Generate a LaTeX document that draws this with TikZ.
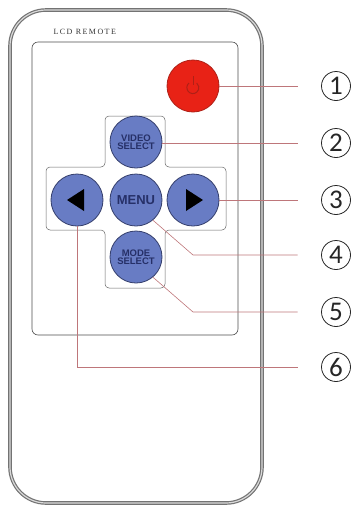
\documentclass[tikz,border=0pt]{standalone}
\usepackage{fontspec}
\setmainfont{Liberation Serif}
\setsansfont{Liberation Sans}
\newfontfamily\digitfont{Carlito}
\usetikzlibrary{calc}

\definecolor{keyblue}{RGB}{104,124,196}
\definecolor{keyedge}{RGB}{52,62,108}
\definecolor{keytext}{RGB}{38,48,104}
\definecolor{pwrred}{RGB}{232,34,22}
\definecolor{pwredge}{RGB}{175,32,22}
\definecolor{leadcol}{RGB}{190,118,122}
\definecolor{casegray}{RGB}{115,115,115}

\begin{document}
\begin{tikzpicture}[x=1pt,y=-1pt]

    \tikzset{
      key/.style={
        circle,
        draw=keyedge,
        line width=0.8pt,
        fill=keyblue,
        minimum size=52pt,
        inner sep=0pt,
        align=center,
        text=keytext,
        font=\sffamily\bfseries,
      },
      pwrkey/.style={key, fill=pwrred, draw=pwredge},
      smallcaps/.style={font=\sffamily\bfseries\fontsize{9.5}{8.5}\selectfont},
      arrowtip/.style={fill=black},
      lead/.style={draw=leadcol, line width=0.6pt, shorten >=23.5pt},
      num/.style={
        circle,
        draw=black!85,
        line width=0.8pt,
        minimum size=29pt,
        inner sep=0pt,
        font=\digitfont\fontsize{27}{27}\selectfont,
        text=black!85,
      },
    }
    \useasboundingbox (0,0) rectangle (354,507);

    % case and panels
    \draw[draw=casegray, line width=1.2pt, double=gray!30, double distance=1.2pt,
          rounded corners=36pt] (10,10) rectangle (262,503);
    \node[anchor=west, font=\addfontfeature{LetterSpace=18}\fontsize{8}{8}\selectfont, text=black!80]
      (brand) at (50,32) {LCD REMOTE};
    \draw[draw=black!70, line width=0.6pt, rounded corners=6pt] (32,42) rectangle (238,335);
    \draw[draw=black!60, line width=0.5pt, rounded corners=4pt]
      (105,116) -- (165,116) -- (165,167) -- (226,167) -- (226,230) -- (165,230)
      -- (165,288) -- (105,288) -- (105,230) -- (46,230) -- (46,167) -- (105,167) -- cycle;

    % keys
    \node[pwrkey] (pwr) at (193,86) {};
    \draw[draw=pwredge, line width=1pt] ($(pwr)+(-4,-3)$) arc[start angle=130, end angle=410, radius=6pt];
    \draw[draw=pwredge, line width=1pt] ($(pwr)+(0,-10)$) -- ($(pwr)+(0,-1)$);
    \node[key, smallcaps] (vidsel) at (136,142) {VIDEO\\SELECT};
    \node[key, font=\sffamily\bfseries\fontsize{13}{13}\selectfont] (menu) at (136,200) {MENU};
    \node[key] (leftkey) at (77,200) {};
    \node[key] (rightkey) at (193,200) {};
    \node[key, smallcaps] (modesel) at (136,257) {MODE\\SELECT};
    \fill[arrowtip] ($(leftkey)+(-10,0)$) -- ($(leftkey)+(7,-11)$) -- ($(leftkey)+(7,11)$) -- cycle;
    \fill[arrowtip] ($(rightkey)+(10,0)$) -- ($(rightkey)+(-7,-11)$) -- ($(rightkey)+(-7,11)$) -- cycle;

    % callout numbers
    \node[num] (n1) at (336,86) {1};
    \node[num] (n2) at (336,143) {2};
    \node[num] (n3) at (336,200) {3};
    \node[num] (n4) at (336,255) {4};
    \node[num] (n5) at (336,312) {5};
    \node[num] (n6) at (336,367) {6};

    \draw[lead] (pwr.east) -- (n1.west);
    \draw[lead] (vidsel.east |- n2) -- (n2.west);
    \draw[lead] (rightkey.east) -- (n3.west);
    \draw[lead] (menu.-50) -- (rightkey.south |- n4) -- (n4.west);
    \draw[lead] (modesel.-50) -- (rightkey.south |- n5) -- (n5.west);
    \draw[lead] (leftkey.south) -- (leftkey.south |- n6) -- (n6.west);

\end{tikzpicture}
\end{document}
